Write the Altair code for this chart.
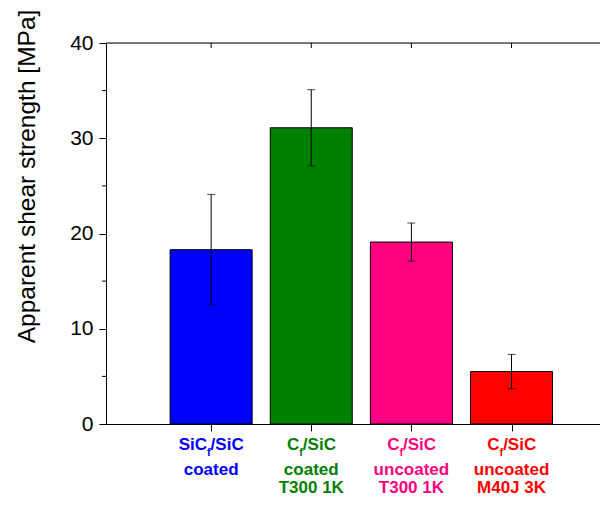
import altair as alt
import pandas as pd

# ---- data ----
categories = ["SiCf/SiC coated", "Cf/SiC coated T300 1K", "Cf/SiC uncoated T300 1K", "Cf/SiC uncoated M40J 3K"]
positions = [1, 2, 3, 4]
strengths = [18.3, 31.1, 19.1, 5.5]
errors = [5.8, 4.0, 2.0, 1.8]
colors = ["#0000FF", "#008000", "#FF0080", "#FF0000"]
line1_prefix = ["SiC", "C", "C", "C"]
line1_sub = ["f", "f", "f", "f"]
line1_suffix = ["/SiC", "/SiC", "/SiC", "/SiC"]
line2 = ["coated", "coated", "uncoated", "uncoated"]
line3 = ["", "T300 1K", "T300 1K", "M40J 3K"]
y_ticks = [0, 10, 20, 30, 40]
y_minor = [5, 15, 25, 35]

# ---- layout ----
W, H = 494, 381
PPU = 102.2
XMAX = W / PPU
FONT = "Arial, 'Liberation Sans', sans-serif"
LBL = 17
SUB = 11

cw = {"S": 0.667, "i": 0.278, "C": 0.722, "/": 0.278, "f": 0.333}
def tw(s, size):
    return sum(cw.get(c, 0.55) for c in s) * size

df = pd.DataFrame({
    "cat": categories, "pos": positions, "val": strengths, "err": errors,
    "pre": line1_prefix, "sub": line1_sub, "suf": line1_suffix,
    "l2": line2, "l3": line3,
})
df["lo"] = df["val"] - df["err"]
df["hi"] = df["val"] + df["err"]
xp, xs, xf = [], [], []
for p, a, b, c in zip(df["pos"], df["pre"], df["sub"], df["suf"]):
    wa, wb, wc = tw(a, LBL), tw(b, SUB), tw(c, LBL)
    start = -(wa + wb + wc) / 2
    xp.append(p + (start + wa) / PPU)
    xs.append(p + (start + wa) / PPU)
    xf.append(p + (start + wa + wb) / PPU)
df["x_pre"], df["x_sub"], df["x_suf"] = xp, xs, xf

xscale = alt.Scale(domain=[0, XMAX], nice=False, zero=False)
yscale = alt.Scale(domain=[0, 40], nice=False)
cscale = alt.Scale(domain=categories, range=colors)

base = alt.Chart(df)

bars = base.mark_bar(size=82, stroke="black", strokeWidth=1).encode(
    x=alt.X("pos:Q", scale=xscale,
            axis=alt.Axis(values=positions, labels=False, tickSize=7, tickColor="black",
                          domainColor="black", grid=False, title=None)),
    y=alt.Y("val:Q", scale=yscale,
            axis=alt.Axis(values=y_ticks, tickSize=7, tickColor="black", domainColor="black",
                          grid=False, labelFont=FONT, labelFontSize=21, labelColor="black",
                          labelPadding=6,
                          title="Apparent shear strength [MPa]", titleFont=FONT,
                          titleFontSize=24.5, titleFontWeight="normal", titleColor="black",
                          titleX=-79, titleY=133, titleAlign="center", titleBaseline="middle")),
    color=alt.Color("cat:N", scale=cscale, legend=None),
)

err_rule = base.mark_rule(color="black", strokeWidth=1).encode(
    x="pos:Q", y="lo:Q", y2="hi:Q")
cap_lo = base.mark_tick(orient="horizontal", size=8, thickness=1, color="black").encode(
    x="pos:Q", y="lo:Q")
cap_hi = base.mark_tick(orient="horizontal", size=8, thickness=1, color="black").encode(
    x="pos:Q", y="hi:Q")

minor = alt.Chart(pd.DataFrame({"m": y_minor})).mark_rule(color="black").encode(
    y="m:Q", x=alt.value(-4), x2=alt.value(0))
top_ticks = alt.Chart(pd.DataFrame({"p": positions})).mark_rule(color="black").encode(
    x="p:Q", y=alt.value(0), y2=alt.value(5))
top_line = alt.Chart(pd.DataFrame({"p": [0]})).mark_rule(color="black").encode(
    x=alt.value(0), x2=alt.value(W), y=alt.value(0))

def txt(field, xfield, yoff, align, size):
    return base.mark_text(align=align, baseline="alphabetic", font=FONT, fontSize=size,
                          fontWeight="bold").encode(
        x=alt.X(f"{xfield}:Q"), y=alt.value(H + yoff), text=f"{field}:N",
        color=alt.Color("cat:N", scale=cscale, legend=None))

t_pre = txt("pre", "x_pre", 26, "right", LBL)
t_sub = txt("sub", "x_sub", 32, "left", SUB)
t_suf = txt("suf", "x_suf", 26, "left", LBL)
t_l2 = txt("l2", "pos", 51, "center", LBL)
t_l3 = txt("l3", "pos", 69, "center", LBL)

chart = alt.layer(bars, err_rule, cap_lo, cap_hi, minor, top_ticks, top_line,
                  t_pre, t_sub, t_suf, t_l2, t_l3).properties(
    width=W, height=H,
    autosize=alt.AutoSizeParams(type="none"),
    padding={"left": 98, "top": 35, "right": 0, "bottom": 74},
).configure_view(stroke=None).configure(background="white")

chart.save("out.html", embed_options={"renderer": "svg", "actions": False})
